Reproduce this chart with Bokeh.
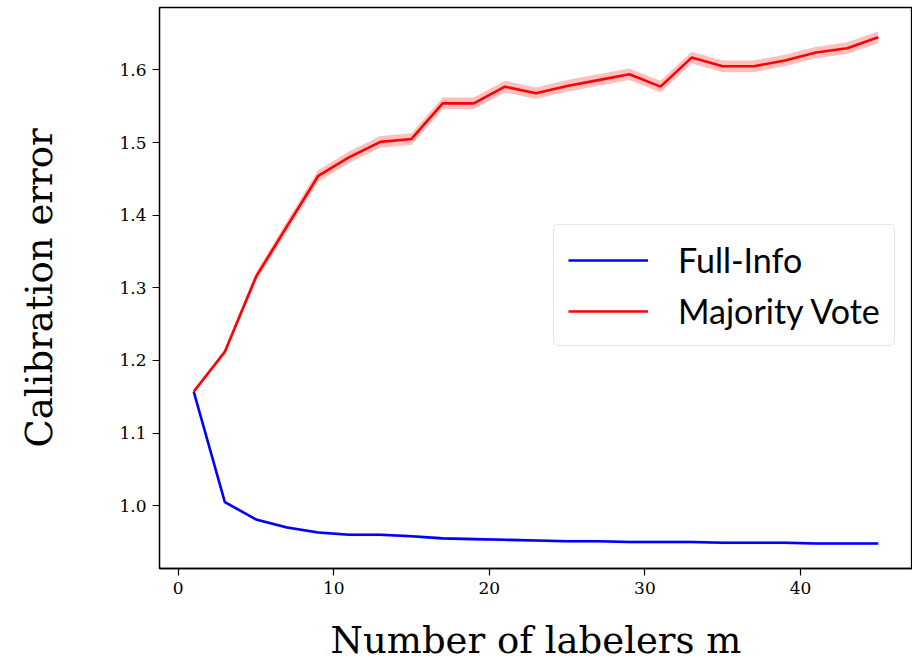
from bokeh.plotting import figure
from bokeh.models import FixedTicker, Legend, LegendItem, Range1d
from bokeh.embed import file_html
from bokeh.resources import INLINE

# ---- data ----
m_values = [1, 3, 5, 7, 9, 11, 13, 15, 17, 19, 21, 23, 25, 27, 29, 31, 33, 35, 37, 39, 41, 43, 45]
full_info = [1.157, 1.005, 0.981, 0.970, 0.963, 0.960, 0.960, 0.958, 0.955, 0.954, 0.953, 0.952,
             0.951, 0.951, 0.950, 0.950, 0.950, 0.949, 0.949, 0.949, 0.948, 0.948, 0.948]
full_info_err = [0.000, 0.002, 0.002, 0.002, 0.002, 0.002, 0.002, 0.002, 0.002, 0.002, 0.002, 0.002,
                 0.002, 0.002, 0.002, 0.002, 0.002, 0.002, 0.002, 0.002, 0.002, 0.002, 0.002]
majority_vote = [1.157, 1.212, 1.315, 1.385, 1.454, 1.480, 1.501, 1.505, 1.554, 1.554, 1.577, 1.568,
                 1.578, 1.586, 1.594, 1.577, 1.617, 1.605, 1.605, 1.613, 1.624, 1.630, 1.645]
majority_vote_err = [0.000, 0.004, 0.006, 0.007, 0.008, 0.008, 0.008, 0.008, 0.008, 0.008, 0.008, 0.008,
                     0.008, 0.008, 0.008, 0.008, 0.008, 0.008, 0.008, 0.008, 0.008, 0.008, 0.008]
series_labels = ["Full-Info", "Majority Vote"]
x_ticks = [0, 10, 20, 30, 40]
x_tick_labels = ["0", "10", "20", "30", "40"]
y_ticks = [1.0, 1.1, 1.2, 1.3, 1.4, 1.5, 1.6]
y_tick_labels = ["1.0", "1.1", "1.2", "1.3", "1.4", "1.5", "1.6"]
x_title = "Number of labelers m"
y_title = "Calibration error"

p = figure(width=912, height=664, output_backend="svg", toolbar_location=None,
           x_range=Range1d(-1.2, 47.2), y_range=Range1d(0.9135, 1.686),
           min_border_left=159, min_border_right=0, min_border_top=7, min_border_bottom=96)
p.background_fill_color = "white"
p.border_fill_color = "white"
p.outline_line_color = "black"
p.outline_line_width = 1.3
p.xgrid.visible = False
p.ygrid.visible = False

fi_lo = [v - e for v, e in zip(full_info, full_info_err)]
fi_hi = [v + e for v, e in zip(full_info, full_info_err)]
mv_lo = [v - e for v, e in zip(majority_vote, majority_vote_err)]
mv_hi = [v + e for v, e in zip(majority_vote, majority_vote_err)]

p.varea(x=m_values, y1=fi_lo, y2=fi_hi, fill_color="blue", fill_alpha=0.2)
r_fi = p.line(m_values, full_info, line_color="#0000ff", line_width=2.6)
p.varea(x=m_values, y1=mv_lo, y2=mv_hi, fill_color="red", fill_alpha=0.25)
r_mv = p.line(m_values, majority_vote, line_color="#ff0000", line_width=2.6)

for ax in (p.xaxis[0], p.yaxis[0]):
    ax.axis_line_color = "black"
    ax.axis_line_width = 1.3
    ax.major_tick_line_color = "black"
    ax.major_tick_line_width = 1.2
    ax.major_tick_in = 0
    ax.major_tick_out = 7
    ax.minor_tick_line_color = None
    ax.major_label_text_font = "DejaVu Serif"
    ax.major_label_text_font_size = "17px"
    ax.major_label_text_color = "black"
    ax.axis_label_text_font = "DejaVu Serif"
    ax.axis_label_text_font_size = "37px"
    ax.axis_label_text_font_style = "normal"
    ax.axis_label_text_color = "black"
    ax.major_label_standoff = 6

p.xaxis[0].ticker = FixedTicker(ticks=x_ticks)
p.xaxis[0].major_label_overrides = dict(zip(x_ticks, x_tick_labels))
p.yaxis[0].ticker = FixedTicker(ticks=y_ticks)
p.yaxis[0].major_label_overrides = dict(zip(y_ticks, y_tick_labels))
p.xaxis[0].axis_label = x_title
p.yaxis[0].axis_label = y_title
p.xaxis[0].axis_label_standoff = 22
p.yaxis[0].axis_label_standoff = 55

legend = Legend(items=[LegendItem(label=series_labels[0], renderers=[r_fi]),
                       LegendItem(label=series_labels[1], renderers=[r_mv])],
                location=(394, 222))
legend.label_text_font = "Lato"
legend.label_text_font_size = "34px"
legend.label_text_color = "black"
legend.glyph_width = 80
legend.glyph_height = 40
legend.label_height = 40
legend.label_standoff = 30
legend.padding = 14
legend.spacing = 10
legend.margin = 0
legend.border_line_color = "#cccccc"
legend.border_line_width = 1
legend.background_fill_color = "white"
legend.background_fill_alpha = 0.8
try:
    legend.border_radius = 5
except Exception:
    pass
p.add_layout(legend)

open("out.html", "w").write(file_html(p, INLINE))
